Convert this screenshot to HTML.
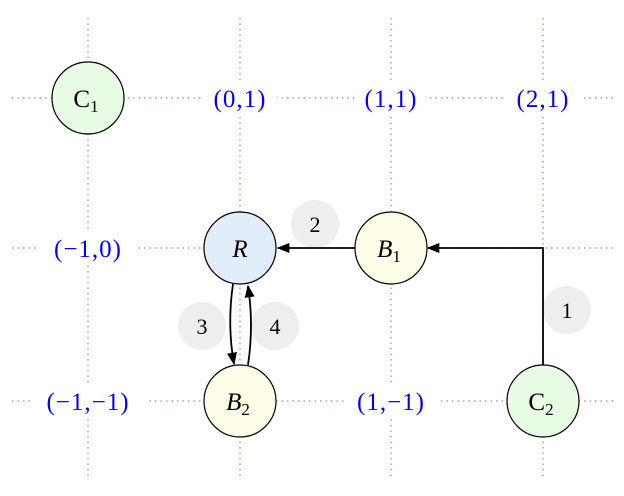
<!DOCTYPE html>
<html><head><style>body{margin:0;background:#fff}svg{display:block}</style></head><body>
<svg width="624" height="496" viewBox="0 0 624 496" xmlns="http://www.w3.org/2000/svg" font-family="Liberation Serif, serif">
<defs><marker id="a" viewBox="0 0 10 10" refX="9" refY="5" markerWidth="7" markerHeight="7" orient="auto"><path d="M0,1 L10,5 L0,9 z" fill="#000"/></marker></defs>
<g stroke="#8888ee" stroke-width="1.2" stroke-dasharray="1.5,4">
<line x1="12" y1="98" x2="615" y2="98"/><line x1="12" y1="248" x2="615" y2="248"/><line x1="12" y1="401" x2="615" y2="401"/>
<line x1="88" y1="18" x2="88" y2="478"/><line x1="240" y1="18" x2="240" y2="478"/><line x1="391" y1="18" x2="391" y2="478"/><line x1="543" y1="18" x2="543" y2="478"/>
</g>
<g fill="#fff">
<rect x="203" y="82" width="74" height="32"/><rect x="354" y="82" width="74" height="32"/><rect x="506" y="82" width="74" height="32"/>
<rect x="38" y="232" width="100" height="32"/><rect x="30" y="385" width="116" height="32"/><rect x="345" y="385" width="92" height="32"/>
</g>
<g fill="#0000ff" font-size="25" text-anchor="middle" letter-spacing="1">
<text x="240" y="107">(0,1)</text><text x="391" y="107">(1,1)</text><text x="543" y="107">(2,1)</text>
<text x="88" y="257">(−1,0)</text><text x="88" y="410">(−1,−1)</text><text x="391" y="410">(1,−1)</text>
</g>
<g fill="#eeeeee"><circle cx="315" cy="224" r="24"/><circle cx="567" cy="310" r="24"/><circle cx="202" cy="326" r="24"/><circle cx="275" cy="326" r="24"/></g>
<g font-size="22" text-anchor="middle"><text x="315" y="232">2</text><text x="567" y="318">1</text><text x="202" y="334">3</text><text x="275" y="334">4</text></g>
<g stroke="#000" stroke-width="1.2">
<circle cx="88" cy="98" r="36" fill="#e8fbe4"/><circle cx="240" cy="248" r="36" fill="#e1eef9"/>
<circle cx="391" cy="248" r="36" fill="#fdfde8"/><circle cx="240" cy="401" r="36" fill="#fdfde8"/><circle cx="543" cy="401" r="36" fill="#e8fbe4"/>
</g>
<g fill="none" stroke="#000" stroke-width="1.8" marker-end="url(#a)">
<path d="M543,365 L543,248 L428,248"/><path d="M355,248 L278,248"/>
<path d="M233,284 Q227,325 234,364"/><path d="M248,365 Q254,325 248,286"/>
</g>
<g font-size="25" text-anchor="middle" font-style="italic">
<text x="86" y="107" font-style="normal">C<tspan font-size="17" dy="5">1</tspan></text>
<text x="240" y="257">R</text>
<text x="389" y="257">B<tspan font-size="17" dy="5" font-style="normal">1</tspan></text>
<text x="238" y="410">B<tspan font-size="17" dy="5" font-style="normal">2</tspan></text>
<text x="541" y="410" font-style="normal">C<tspan font-size="17" dy="5">2</tspan></text>
</g>
</svg>
</body></html>
